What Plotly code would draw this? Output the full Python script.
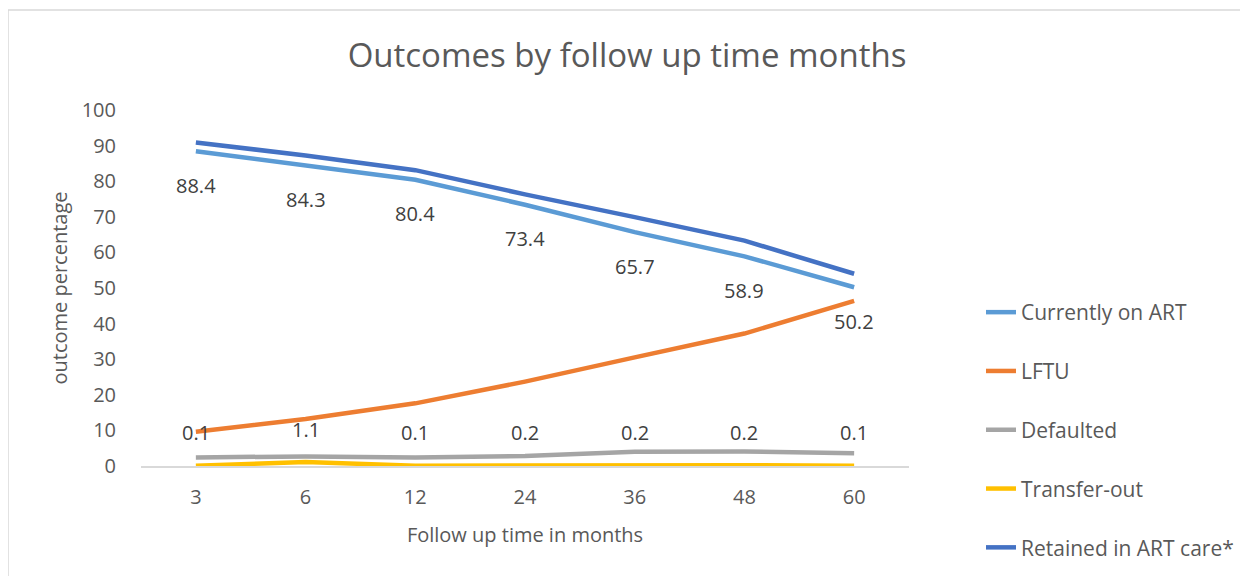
import plotly.graph_objects as go

# ---- data ----
months = ["3", "6", "12", "24", "36", "48", "60"]
currently_on_art = [88.4, 84.3, 80.4, 73.4, 65.7, 58.9, 50.2]
lftu = [9.6, 13.2, 17.6, 23.7, 30.5, 37.2, 46.4]
defaulted = [2.4, 2.7, 2.4, 2.8, 4.0, 4.1, 3.6]
transfer_out = [0.1, 1.1, 0.1, 0.2, 0.2, 0.2, 0.1]
retained = [90.9, 87.2, 83.1, 76.3, 69.9, 63.3, 54.0]

series = [
    ("Currently on ART", currently_on_art, "#5B9BD5"),
    ("LFTU", lftu, "#ED7D31"),
    ("Defaulted", defaulted, "#A5A5A5"),
    ("Transfer-out", transfer_out, "#FFC000"),
    ("Retained in ART care*", retained, "#4472C4"),
]

FONT = "Open Sans"
TXT = "#595959"

fig = go.Figure()
for i, (name, vals, col) in enumerate(series):
    fig.add_trace(go.Scatter(
        x=months, y=vals, name=name, mode="lines",
        line=dict(color=col, width=4.5),
        legendgroup=f"g{i}",
    ))

annotations = []
for i, v in enumerate(currently_on_art):
    annotations.append(dict(x=i, y=v, xref="x", yref="y", text=f"{v:.1f}", showarrow=False,
                            yshift=-34, font=dict(family=FONT, size=20, color="#404040")))
for i, v in enumerate(transfer_out):
    annotations.append(dict(x=i, y=v, xref="x", yref="y", text=f"{v:.1f}", showarrow=False,
                            yshift=33, font=dict(family=FONT, size=20, color="#404040")))

OFF = 8  # page body margin
W, H = 1248, 576
L, T = 141 - OFF, 110 - OFF
R = W - (909 - OFF)
B = H - (466 - OFF)
pw, ph = W - L - R, H - T - B

def px_x(p):
    return (p - OFF - L) / pw

def px_y(p):
    return (H - B - (p - OFF)) / ph

fig.update_layout(
    width=W, height=H,
    margin=dict(l=L, r=R, t=T, b=B, autoexpand=False),
    paper_bgcolor="white", plot_bgcolor="white",
    font=dict(family=FONT, color=TXT, size=20),
    title=dict(text="Outcomes by follow up time months", x=(627 - OFF) / W, xanchor="center",
               y=1 - (55 - OFF) / H, yanchor="middle", xref="container", yref="container",
               font=dict(family=FONT, size=33, color=TXT)),
    xaxis=dict(type="category", range=[-0.5, 6.5], showgrid=False, zeroline=False,
               showline=True, linecolor="#D9D9D9", linewidth=1.5, ticks="",
               ticklabelstandoff=12,
               tickfont=dict(family=FONT, size=20, color=TXT),
               title=dict(text="Follow up time in months", standoff=19,
                          font=dict(family=FONT, size=20, color=TXT))),
    yaxis=dict(range=[0, 100], dtick=10, showgrid=False, zeroline=False, showline=False,
               ticks="", ticklabelstandoff=24,
               tickfont=dict(family=FONT, size=20, color=TXT),
               title=dict(text="outcome percentage", standoff=8,
                          font=dict(family=FONT, size=20, color=TXT))),
    legend=dict(x=px_x(981), y=px_y(292), xanchor="left", yanchor="top",
                orientation="v", tracegroupgap=28.5, traceorder="grouped",
                font=dict(family=FONT, size=21, color=TXT), bgcolor="rgba(0,0,0,0)"),
    annotations=annotations,
    shapes=[dict(type="rect", xref="paper", yref="paper",
                 x0=px_x(8), x1=px_x(1246), y0=px_y(600), y1=px_y(10),
                 line=dict(color="#D9D9D9", width=1.5), fillcolor="rgba(0,0,0,0)",
                 layer="below")],
    showlegend=True,
)

fig.write_html("out.html")
